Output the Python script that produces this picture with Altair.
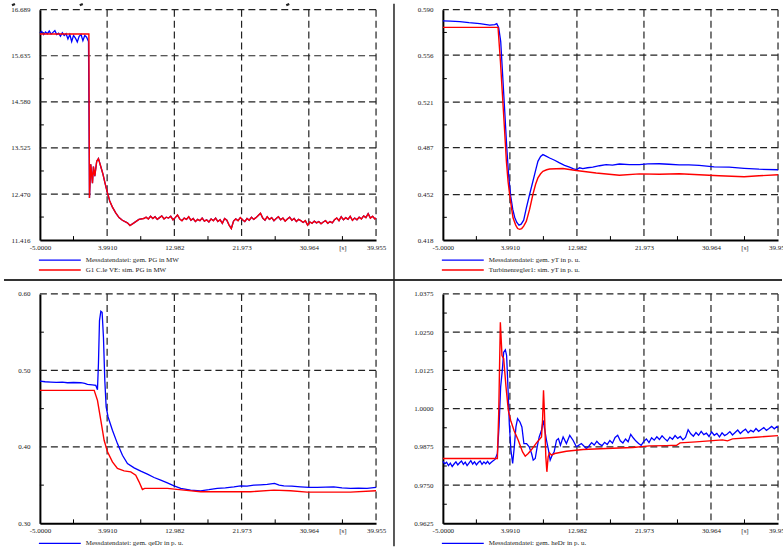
import altair as alt
import pandas as pd

BLUE = "#0000ff"
RED = "#ff0000"
FONT = "Liberation Serif"

# ---------------- shared x axis ----------------
x_domain = [-5.0, 39.955]
x_tick_values = [-5.0, 3.991, 12.982, 21.973, 30.964, 39.955]
x_tick_labels = ["-5.0000", "3.9910", "12.982", "21.973", "30.964", "39.955"]
x_unit_value = 35.4595
x_unit_label = "[s]"
x_minor_ticks = [-0.5045, 8.4865, 17.4775, 26.4685, 35.4595]

# ---------------- panel 1 : PG ----------------
p1_y_ticks = [16.689, 15.635, 14.580, 13.525, 12.470, 11.416]
p1_y_minor = [16.162, 15.1075, 14.0525, 12.9975, 11.943]
p1_legend = ["Messdatendatei: gem. PG in MW", "G1 C.le VE: sim. PG in MW"]
p1_meas_pre_t = [-5.0, -4.75, -4.5, -4.25, -4.0, -3.75, -3.5, -3.25, -3.0, -2.75,
                 -2.5, -2.25, -2.0, -1.75, -1.5, -1.25, -1.0, -0.75, -0.5, -0.25,
                 0.0, 0.25, 0.5, 0.75, 1.0, 1.25, 1.5]
p1_meas_pre_v = [16.16, 16.19, 16.12, 16.18, 16.14, 16.20, 16.13, 16.17, 16.21, 16.12,
                 16.15, 16.08, 16.16, 16.10, 16.14, 16.02, 16.12, 15.96, 16.10, 16.04,
                 15.95, 16.08, 16.12, 15.98, 16.10, 16.06, 15.96]
p1_sim_pre_t = [-5.0, 1.55]
p1_sim_pre_v = [16.134, 16.134]
p1_after_t = [1.63, 1.80, 2.03, 2.16, 2.34, 2.60, 2.83, 3.14, 3.44, 3.71,
              4.03, 4.34, 4.70, 5.14, 5.58, 6.03, 6.70, 7.05, 7.58, 8.25, 8.91,
              9.2, 9.5, 9.8, 10.1, 10.4, 10.7, 11.0, 11.3, 11.6, 11.9,
              12.2, 12.5, 12.8, 13.1, 13.4, 13.7, 14.0, 14.3, 14.6, 14.9,
              15.2, 15.5, 15.8, 16.1, 16.4, 16.7, 17.0, 17.3, 17.6, 17.9,
              18.2, 18.5, 18.8, 19.1, 19.4, 19.7, 20.0, 20.3, 20.6, 20.9,
              21.2, 21.5, 21.8, 22.1, 22.4, 22.7, 23.0, 23.3, 23.6, 23.9,
              24.2, 24.5, 24.8, 25.1, 25.4, 25.7, 26.0, 26.3, 26.6, 26.9,
              27.2, 27.5, 27.8, 28.1, 28.4, 28.7, 29.0, 29.3, 29.6, 29.9,
              30.2, 30.5, 30.8, 31.1, 31.4, 31.7, 32.0, 32.3, 32.6, 32.9,
              33.2, 33.5, 33.8, 34.1, 34.4, 34.7, 35.0, 35.3, 35.6, 35.9,
              36.2, 36.5, 36.8, 37.1, 37.4, 37.7, 38.0, 38.3, 38.6, 38.9,
              39.2, 39.5, 39.8, 39.955]
p1_after_v = [12.38, 13.15, 12.72, 13.10, 12.88, 13.22, 13.28, 13.10, 12.92, 12.72,
              12.50, 12.31, 12.17, 12.04, 11.93, 11.87, 11.81, 11.75, 11.81, 11.89, 11.91,
              11.94, 11.90, 11.96, 11.91, 11.95, 11.89, 11.93, 11.97, 11.90, 11.94,
              11.92, 11.96, 11.88, 11.93, 11.99, 11.90, 11.86, 11.92, 11.89, 11.95,
              11.87, 11.91, 11.84, 11.89, 11.86, 11.92, 11.85, 11.88, 11.83, 11.90,
              11.86, 11.92, 11.84, 11.88, 11.80, 11.91, 11.87, 11.76, 11.68, 11.85,
              11.90, 11.86, 11.93, 11.88, 11.84, 11.91, 11.87, 11.94, 11.89, 11.93,
              11.98, 12.03, 11.92, 11.87, 11.95, 11.89, 11.93, 11.86, 11.91, 11.95,
              11.88, 11.92, 11.85, 11.90, 11.94, 11.87, 11.91, 11.84, 11.89, 11.86,
              11.82, 11.86, 11.76, 11.83, 11.80, 11.85, 11.81, 11.84, 11.79, 11.83,
              11.86, 11.80, 11.84, 11.81, 11.88, 11.92, 11.86, 11.95, 11.88, 11.93,
              11.89, 11.96, 11.87, 11.92, 11.88, 11.94, 11.90, 11.97, 11.93, 12.02,
              11.92, 11.96, 11.90, 11.92]

# ---------------- panel 2 : yT ----------------
p2_y_ticks = [0.590, 0.556, 0.521, 0.487, 0.452, 0.418]
p2_y_minor = [0.573, 0.5385, 0.504, 0.4695, 0.435]
p2_legend = ["Messdatendatei: gem. yT in p. u.", "Turbinenregler1: sim. yT in p. u."]
p2_meas_t = [-5.0, -4.0, -2.73, -1.5, -0.05, 1.29, 1.96, 2.23, 2.49, 2.76,
             3.03, 3.30, 3.56, 3.83, 4.10, 4.37, 4.63, 4.90, 5.21, 5.50,
             5.84, 6.20, 6.64, 7.08, 7.44, 7.75, 8.11, 8.42, 8.78, 9.32,
             9.99, 10.65, 11.32, 11.99, 12.53, 12.97, 13.33, 13.77, 14.40, 15.11,
             16.01, 16.90, 17.75, 18.68, 20.02, 21.36, 22.5, 24.03, 25.3, 26.71,
             28.0, 29.38, 31.39, 33.40, 35.41, 37.41, 39.955]
p2_meas_v = [0.5816, 0.5814, 0.5811, 0.5803, 0.5796, 0.5785, 0.5788, 0.5796, 0.5766, 0.5662,
             0.5401, 0.5141, 0.4880, 0.4657, 0.4508, 0.4411, 0.4351, 0.4314, 0.4292, 0.4299,
             0.4329, 0.4420, 0.4522, 0.4619, 0.4701, 0.4768, 0.4805, 0.4818, 0.4809, 0.4793,
             0.4776, 0.4756, 0.4738, 0.4724, 0.4712, 0.4706, 0.4720, 0.4714, 0.4720, 0.4724,
             0.4735, 0.4744, 0.4740, 0.4748, 0.4744, 0.4744, 0.4749, 0.4750, 0.4746, 0.4742,
             0.4741, 0.4738, 0.4727, 0.4724, 0.4716, 0.4709, 0.4705]
p2_sim_t = [-5.0, 2.40, 2.72, 2.99, 3.26, 3.52, 3.74, 3.96, 4.23, 4.41,
            4.77, 5.03, 5.30, 5.57, 5.84, 6.20, 6.64, 7.08, 7.44, 7.75,
            8.11, 8.42, 8.92, 9.32, 11.10, 12.89, 15.56, 18.68, 21.36, 24.03,
            26.71, 29.38, 32.06, 35.41, 37.41, 39.955]
p2_sim_v = [0.5768, 0.5768, 0.5513, 0.5265, 0.5016, 0.4768, 0.4619, 0.4520, 0.4411, 0.4346,
            0.4292, 0.4266, 0.4260, 0.4266, 0.4284, 0.4321, 0.4411, 0.4522, 0.4597, 0.4644,
            0.4675, 0.4694, 0.4705, 0.4711, 0.4714, 0.4699, 0.4681, 0.4664, 0.4674, 0.4671,
            0.4675, 0.4668, 0.4660, 0.4653, 0.4660, 0.4668]

# ---------------- panel 3 : qeDr ----------------
p3_y_ticks = [0.60, 0.50, 0.40, 0.30]
p3_y_minor = [0.55, 0.45, 0.35]
p3_legend = ["Messdatendatei: gem. qeDr in p. u."]
p3_meas_t = [-5.0, -4.3, -3.53, -2.8, -2.0, -1.31, -0.5, 0.47, 1.0, 1.36,
             2.0, 2.48, 2.70, 2.83, 2.97, 3.15, 3.32, 3.50, 3.68, 3.86,
             4.12, 4.70, 5.37, 6.04, 6.71, 7.60, 8.49, 9.38, 10.27, 11.16,
             12.05, 12.94, 13.83, 15.16, 16.50, 17.6, 18.72, 19.8, 20.95, 21.84,
             22.7, 23.62, 24.5, 25.40, 26.38, 27.0, 27.63, 28.7, 29.85, 31.0,
             32.08, 33.2, 34.30, 35.4, 36.53, 37.6, 38.75, 39.955]
p3_meas_v = [0.4861, 0.4852, 0.4848, 0.4843, 0.4846, 0.4839, 0.4842, 0.4839, 0.4830, 0.4817,
             0.4810, 0.4804, 0.4748, 0.5087, 0.5652, 0.5774, 0.5761, 0.5435, 0.4870, 0.4522,
             0.4391, 0.4217, 0.4043, 0.3891, 0.3783, 0.3726, 0.3683, 0.3643, 0.3600, 0.3565,
             0.3530, 0.3491, 0.3457, 0.3435, 0.3426, 0.3440, 0.3457, 0.3465, 0.3478, 0.3491,
             0.3487, 0.3500, 0.3504, 0.3509, 0.3522, 0.3500, 0.3491, 0.3487, 0.3478, 0.3470,
             0.3470, 0.3474, 0.3478, 0.3465, 0.3457, 0.3461, 0.3457, 0.3470]
p3_sim_t = [-5.0, 2.26, 2.70, 3.15, 3.59, 4.04, 4.70, 5.37, 6.26, 7.15,
            7.82, 8.26, 8.71, 9.02, 9.38, 12.05, 14.27, 16.50, 20.95, 23.17,
            26.29, 28.52, 30.74, 34.30, 36.53, 39.955]
p3_sim_v = [0.4739, 0.4739, 0.4609, 0.4348, 0.4087, 0.3935, 0.3804, 0.3717, 0.3687, 0.3674,
            0.3630, 0.3543, 0.3443, 0.3457, 0.3457, 0.3457, 0.3435, 0.3413, 0.3413, 0.3413,
            0.3435, 0.3426, 0.3409, 0.3409, 0.3409, 0.3426]

# ---------------- panel 4 : heDr ----------------
p4_y_ticks = [1.0375, 1.0250, 1.0125, 1.0000, 0.9875, 0.9750, 0.9625]
p4_y_minor = [1.03125, 1.01875, 1.00625, 0.99375, 0.98125, 0.96875]
p4_legend = ["Messdatendatei: gem. heDr in p. u."]
p4_meas_t = [-5.0, -4.75, -4.5, -4.25, -4.0, -3.75, -3.5, -3.25, -3.0, -2.75,
             -2.5, -2.25, -2.0, -1.75, -1.5, -1.25, -1.0, -0.75, -0.5, -0.25,
             0.0, 0.25, 0.5, 0.75, 1.0, 1.25, 1.5, 1.75, 2.0,
             2.13, 2.31, 2.53, 2.75, 2.97, 3.16, 3.38, 3.55, 3.73, 3.91,
             4.13, 4.36, 4.58, 4.80, 5.02, 5.34, 5.60, 5.87, 6.23, 6.58,
             6.90, 7.12, 7.39, 7.65, 7.92, 8.23, 8.45, 8.68, 8.90, 9.17,
             9.39, 9.66, 9.93, 10.24, 10.50, 10.77, 11.13, 11.57, 12.02, 12.46,
             12.91, 13.58, 14.25,
             14.6, 14.95, 15.3, 15.65, 16.0, 16.35, 16.7, 17.05, 17.4, 17.75,
             18.1, 18.45, 18.8, 19.15, 19.5, 19.85, 20.2, 20.55, 20.9, 21.25,
             21.6, 21.95, 22.3, 22.65, 23.0, 23.35, 23.7, 24.05, 24.4, 24.75,
             25.1, 25.45, 25.8, 26.15, 26.5, 26.85, 27.2, 27.55, 27.9, 28.25,
             28.6, 28.95, 29.3, 29.65, 30.0, 30.35, 30.7, 31.05, 31.4, 31.75,
             32.1, 32.45, 32.8, 33.15, 33.5, 33.85, 34.2, 34.55, 34.9, 35.25,
             35.6, 35.95, 36.3, 36.65, 37.0, 37.35, 37.7, 38.05, 38.4, 38.75,
             39.1, 39.45, 39.8, 39.955]
p4_meas_v = [0.9828, 0.9820, 0.9825, 0.9814, 0.9822, 0.9811, 0.9819, 0.9826, 0.9816, 0.9823,
             0.9829, 0.9818, 0.9825, 0.9814, 0.9822, 0.9830, 0.9819, 0.9826, 0.9816, 0.9824,
             0.9829, 0.9818, 0.9826, 0.9820, 0.9828, 0.9819, 0.9825, 0.9830, 0.9834,
             0.98424, 0.98533, 0.99402, 1.00707, 1.01250, 1.01848, 1.01924, 1.01739, 1.00707, 0.99511,
             0.98641, 0.98207, 0.98750, 0.99402, 0.99674, 0.99565, 0.99402, 0.98859, 0.98859, 0.98750,
             0.98533, 0.98315, 0.98370, 0.98750, 0.99076, 0.99293, 0.99620, 0.99293, 0.98967, 0.98641,
             0.98315, 0.98478, 0.98587, 0.98967, 0.99022, 0.98804, 0.99076, 0.98859, 0.99130, 0.98967,
             0.98750, 0.98859, 0.98696,
             0.9878, 0.9889, 0.9881, 0.9893, 0.9884, 0.9879, 0.9890, 0.9883, 0.9896, 0.9887,
             0.9906, 0.9913, 0.9895, 0.9888, 0.9901, 0.9892, 0.9916, 0.9904, 0.9894, 0.9886,
             0.9880, 0.9893, 0.9901, 0.9889, 0.9905, 0.9897, 0.9908, 0.9899, 0.9911, 0.9902,
             0.9894, 0.9907, 0.9900, 0.9912, 0.9903, 0.9909, 0.9898, 0.9906, 0.9931, 0.9918,
             0.9910, 0.9922, 0.9913, 0.9926, 0.9915, 0.9920, 0.9909, 0.9924, 0.9913, 0.9919,
             0.9908, 0.9921, 0.9912, 0.9917, 0.9925, 0.9914, 0.9922, 0.9930, 0.9919, 0.9927,
             0.9933, 0.9921, 0.9929, 0.9924, 0.9935, 0.9926, 0.9932, 0.9938, 0.9929, 0.9935,
             0.9942, 0.9934, 0.9941, 0.9938]
p4_sim_t = [-5.0, 2.31, 2.49, 2.71, 2.93, 3.16, 3.47, 3.78, 4.09, 4.53,
            5.11, 5.69, 6.05, 6.45, 6.90, 7.56, 8.23, 8.37, 8.50, 8.63,
            8.81, 8.95, 9.12, 9.30, 9.57, 10.01, 11.57, 13.80, 16.92, 20.48,
            22.71, 24.94, 26.36, 26.81, 28.95, 32.51, 33.18, 33.85, 36.97, 39.955]
p4_sim_v = [0.98370, 0.98370, 0.99837, 1.02826, 1.01739, 1.01630, 1.00707, 0.99946, 0.99620, 0.99293,
            0.98967, 0.98587, 0.98446, 0.98533, 0.98663, 0.98880, 0.99076, 0.99620, 1.00598, 0.99837,
            0.98424, 0.97935, 0.98424, 0.98554, 0.98478, 0.98533, 0.98609, 0.98663, 0.98696, 0.98728,
            0.98783, 0.98793, 0.98804, 0.98880, 0.98913, 0.98978, 0.98946, 0.99011, 0.99065, 0.99120]


def x_label_expr():
    expr = "''"
    pairs = list(zip(x_tick_values, x_tick_labels)) + [(x_unit_value, x_unit_label)]
    for v, lab in pairs:
        expr = f"abs(datum.value - ({v})) < 0.01 ? '{lab}' : " + expr
    return expr


ONE = pd.DataFrame({"k": [0]})


def panel(blue_t, blue_v, red_t, red_v, y_ticks, y_fmt, y_minor, legend, W, H, extra=()):
    xs = alt.Scale(domain=x_domain, nice=False, zero=False)
    ys = alt.Scale(domain=[y_ticks[-1], y_ticks[0]], nice=False, zero=False)
    common = dict(title=None, grid=False, ticks=False, tickSize=0, domainColor="black",
                  domainWidth=2, labelFont=FONT, labelFontSize=7, labelColor="#222",
                  labelFlush=False, labelOverlap=False)
    xaxis = alt.Axis(values=x_tick_values + [x_unit_value], labelExpr=x_label_expr(),
                     labelPadding=3, **common)
    yaxis = alt.Axis(values=y_ticks, format=y_fmt, labelPadding=10, **common)
    X = alt.X("x:Q", scale=xs, axis=xaxis)
    Y = alt.Y("y:Q", scale=ys, axis=yaxis)
    dash = dict(strokeDash=[7, 4], color="#222", strokeWidth=1.2)
    hgrid = alt.Chart(pd.DataFrame({"y": y_ticks[:-1]})).mark_rule(**dash).encode(y=Y)
    vgrid = alt.Chart(pd.DataFrame({"x": x_tick_values[1:]})).mark_rule(**dash).encode(x=X)
    xmin = alt.Chart(pd.DataFrame({"x": x_minor_ticks})).mark_rule(color="black", strokeWidth=1).encode(
        x=X, y=alt.value(H), y2=alt.value(H - 4))
    ymin = alt.Chart(pd.DataFrame({"y": y_minor})).mark_rule(color="black", strokeWidth=1).encode(
        y=Y, x=alt.value(0), x2=alt.value(4))
    blue = alt.Chart(pd.DataFrame({"x": blue_t, "y": blue_v})).mark_line(
        color=BLUE, strokeWidth=1.3).encode(x=X, y=Y)
    red = alt.Chart(pd.DataFrame({"x": red_t, "y": red_v})).mark_line(
        color=RED, strokeWidth=1.4).encode(x=X, y=Y)
    layers = [hgrid, vgrid, xmin, ymin, blue, red]
    for i, lab in enumerate(legend):
        c = BLUE if i == 0 else RED
        yy = H + 20 + 10 * i
        layers.append(alt.Chart(ONE).mark_rule(color=c, strokeWidth=1.3).encode(
            x=alt.value(-1), x2=alt.value(41), y=alt.value(yy)))
        layers.append(alt.Chart(ONE).mark_text(align="left", baseline="middle", font=FONT,
                                               fontSize=7, color="#222").encode(
            x=alt.value(46), y=alt.value(yy), text=alt.value(lab)))
    layers += list(extra)
    return alt.layer(*layers).properties(width=W, height=H)


# page frame pieces (relative to the top-left plot area)
anchor = alt.Chart(ONE).mark_rule(color="white", strokeWidth=0.1).encode(
    x=alt.value(-39), x2=alt.value(-38.8), y=alt.value(-8), y2=alt.value(-7.8))
hsep = alt.Chart(ONE).mark_rule(color="#333", strokeWidth=2).encode(
    x=alt.value(-36), x2=alt.value(744), y=alt.value(271))
vsep = alt.Chart(ONE).mark_rule(color="#222", strokeWidth=1.5).encode(
    x=alt.value(355), y=alt.value(-6), y2=alt.value(538))
# fragments of the cut-off page title
title_bits = [
    alt.Chart(ONE).mark_rule(color="#222", strokeWidth=2.2).encode(
        x=alt.value(xa), x2=alt.value(xa + 3), y=alt.value(-4.5), y2=alt.value(-5.8))
    for xa in (-28, 40, 247)
]

p1 = panel(p1_meas_pre_t + p1_after_t, p1_meas_pre_v + p1_after_v,
           p1_sim_pre_t + p1_after_t, p1_sim_pre_v + p1_after_v,
           p1_y_ticks, ".3f", p1_y_minor, p1_legend, 337, 231,
           extra=[anchor, hsep, vsep] + title_bits)
p2 = panel(p2_meas_t, p2_meas_v, p2_sim_t, p2_sim_v,
           p2_y_ticks, ".3f", p2_y_minor, p2_legend, 336, 231)
p3 = panel(p3_meas_t, p3_meas_v, p3_sim_t, p3_sim_v,
           p3_y_ticks, ".2f", p3_y_minor, p3_legend, 337, 230)
p4 = panel(p4_meas_t, p4_meas_v, p4_sim_t, p4_sim_v,
           p4_y_ticks, ".4f", p4_y_minor, p4_legend, 336, 230)

chart = alt.concat(p1, p2, p3, p4, columns=2, spacing={"row": 54, "column": 67},
                   bounds="flush").properties(
    padding={"left": 0, "top": 0, "right": -6, "bottom": 0}
).configure_view(stroke="transparent")

chart.save("out.html", embed_options={"renderer": "svg", "actions": False})
